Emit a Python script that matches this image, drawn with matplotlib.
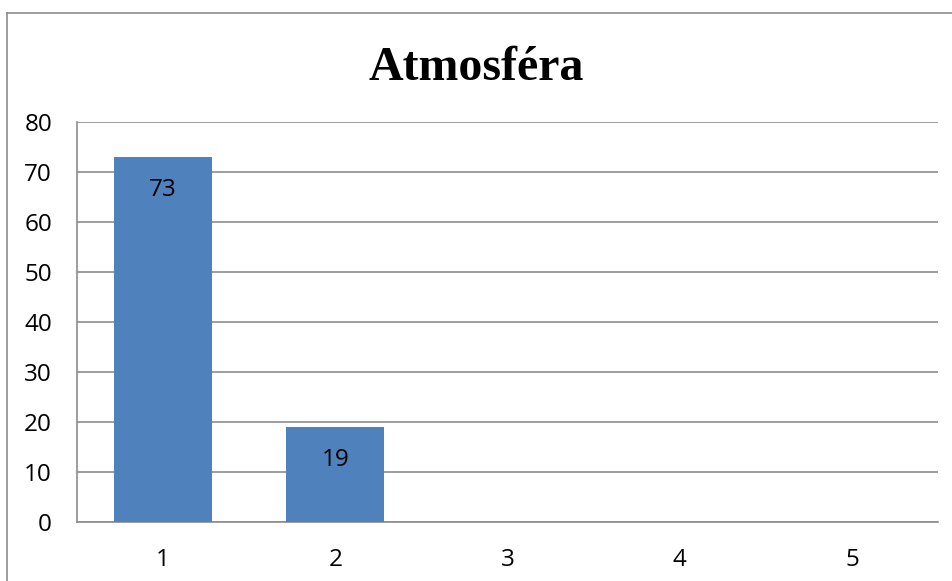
import matplotlib.pyplot as plt
from matplotlib.lines import Line2D

categories = ["1", "2", "3", "4", "5"]
values = [73, 19, 0, 0, 0]

bar_color = "#4F81BD"
grid_color = "#8C8C8C"

fig = plt.figure(figsize=(9.53, 5.81), dpi=100)
ax = fig.add_axes([77 / 953, 1 - 522 / 581, (938 - 77) / 953, (522 - 122) / 581])

x = range(len(categories))
bars = ax.bar(x, values, width=0.57, color=bar_color, zorder=3)

for rect, v in zip(bars, values):
    if v > 0:
        ax.text(rect.get_x() + rect.get_width() / 2, v - 6.5, str(v),
                ha="center", va="center", fontsize=17.5, family="Open Sans",
                color="black", zorder=4)

ax.set_xlim(-0.5, len(categories) - 0.5)
ax.set_ylim(0, 80)
ax.set_yticks(range(0, 81, 10))
ax.set_xticks(list(x))
ax.set_xticklabels(categories)
ax.yaxis.grid(True, color=grid_color, linewidth=1.2, zorder=0)
ax.tick_params(length=0, labelsize=17.5)
ax.tick_params(axis="x", pad=19)
ax.tick_params(axis="y", pad=18)
for lab in ax.get_xticklabels() + ax.get_yticklabels():
    lab.set_family("Open Sans")

for side in ["top", "right"]:
    ax.spines[side].set_visible(False)
for side in ["left", "bottom"]:
    ax.spines[side].set_color(grid_color)
    ax.spines[side].set_linewidth(1.2)

fig.text(0.5, 1 - 68 / 581, "Atmosféra", ha="center", va="center",
         fontsize=34.5, fontweight="bold", family="Liberation Serif")

# chart area frame (left and top edges)
fig.add_artist(Line2D([7 / 953, 7 / 953], [0, 1 - 13 / 581], color=grid_color, linewidth=1.2))
fig.add_artist(Line2D([7 / 953, 1], [1 - 13 / 581, 1 - 13 / 581], color=grid_color, linewidth=1.2))

fig.savefig("out.png", dpi=100)
